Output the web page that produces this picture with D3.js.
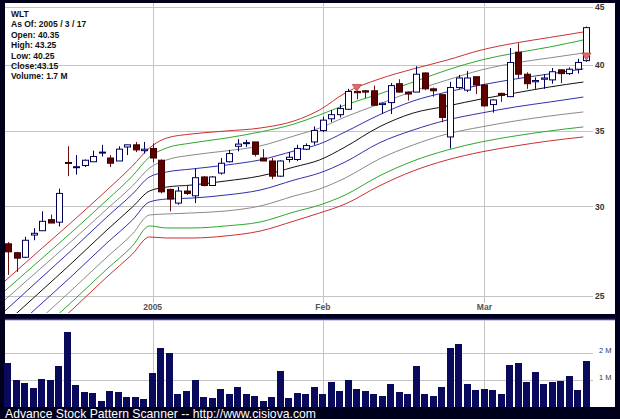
<!DOCTYPE html>
<html><head><meta charset="utf-8">
<script src="https://cdn.jsdelivr.net/npm/d3@7"></script>
<style>
html,body{margin:0;padding:0;background:#00001c;}
svg{display:block;font-family:"Liberation Sans",Arial,sans-serif;}
</style></head><body>
<svg id="c" width="620" height="419"></svg>
<script>
// ---------- data ----------
const dates = [
"2004-12-08","2004-12-09","2004-12-10","2004-12-13","2004-12-14","2004-12-15","2004-12-16","2004-12-17","2004-12-20","2004-12-21","2004-12-22","2004-12-23","2004-12-27","2004-12-28","2004-12-29","2004-12-30","2004-12-31",
"2005-01-03","2005-01-04","2005-01-05","2005-01-06","2005-01-07","2005-01-10","2005-01-11","2005-01-12","2005-01-13","2005-01-14","2005-01-18","2005-01-19","2005-01-20","2005-01-21","2005-01-24","2005-01-25","2005-01-26","2005-01-27","2005-01-28","2005-01-31",
"2005-02-01","2005-02-02","2005-02-03","2005-02-04","2005-02-07","2005-02-08","2005-02-09","2005-02-10","2005-02-11","2005-02-14","2005-02-15","2005-02-16","2005-02-17","2005-02-18","2005-02-22","2005-02-23","2005-02-24","2005-02-25","2005-02-28",
"2005-03-01","2005-03-02","2005-03-03","2005-03-04","2005-03-07","2005-03-08","2005-03-09","2005-03-10","2005-03-11","2005-03-14","2005-03-15","2005-03-16","2005-03-17"];
const open  = [27.8,27.3,27.05,28.3,28.55,29.2,29.05,32.8,32.5,32.6,32.85,33.45,33.1,32.9,33.85,34.0,33.6,33.75,32.95,31.05,30.2,30.95,30.65,31.85,31.3,32.1,32.85,33.9,34.1,34.2,33.1,32.9,31.9,33.0,33.0,33.7,34.2,35.0,35.85,36.15,36.55,37.9,37.95,37.95,36.9,37.05,38.5,37.85,37.85,39.35,38.1,37.65,34.55,38.2,38.0,39.05,38.4,36.9,37.75,37.5,41.05,39.25,38.65,38.85,38.8,39.6,39.3,39.65,40.35];
const high  = [27.9,27.35,28.2,28.7,29.7,29.5,31.1,33.9,33.3,33.0,33.6,34.0,33.3,33.9,34.0,34.2,34.2,34.1,33.0,31.1,31.2,31.3,32.4,31.9,31.9,33.1,33.65,34.4,34.35,34.2,33.7,33.1,32.95,33.5,34.0,34.1,35.3,36.0,36.5,36.9,38.1,38.0,38.0,38.35,37.05,38.55,38.85,37.9,39.9,39.4,38.2,37.65,38.65,39.2,39.5,39.05,38.5,37.3,37.8,41.4,41.8,39.4,39.0,39.25,39.75,39.65,39.8,40.5,43.25];
const low   = [26.1,26.25,27.0,28.0,28.55,29.0,28.8,31.9,32.0,32.5,32.85,33.2,32.5,32.9,33.3,33.5,33.4,32.8,30.8,29.7,30.1,30.7,30.2,31.25,31.3,32.0,32.8,33.55,33.85,33.2,32.9,31.7,31.85,32.8,32.9,33.65,34.0,34.9,35.6,35.95,36.5,37.3,37.4,36.85,36.2,36.2,37.8,37.2,37.85,38.0,37.5,35.6,33.75,38.1,37.85,37.7,36.75,36.3,37.1,37.5,38.95,38.1,38.1,38.1,38.5,38.55,39.2,39.3,40.25];
const close = [27.35,27.0,28.0,28.4,29.1,29.0,30.8,32.75,32.52,32.95,33.2,33.5,32.75,33.7,34.0,33.65,33.7,33.1,30.9,30.45,30.95,30.8,31.8,31.3,31.85,32.75,33.4,34.05,34.15,33.35,32.9,31.9,32.9,33.15,33.75,33.95,35.0,35.75,36.15,36.6,37.9,37.8,37.85,36.85,37.0,38.35,37.85,37.7,39.25,38.1,37.95,35.95,38.2,38.95,38.95,38.4,36.8,37.25,37.6,40.2,39.25,38.5,38.75,38.95,39.45,39.3,39.65,40.2,43.15];
const volume = [1.62,1.0,0.89,0.70,1.04,1.0,1.53,2.78,0.83,0.56,0.52,0.23,0.58,0.56,0.37,0.37,0.30,1.27,2.19,2.0,0.49,0.58,0.99,0.37,0.33,0.67,0.47,0.73,0.47,0.41,0.23,0.36,1.32,0.33,0.52,0.48,
0.75,0.49,0.91,0.58,0.99,0.67,0.58,0.47,0.41,0.86,0.56,0.49,1.51,0.47,0.41,0.75,2.19,2.32,0.84,0.62,0.67,0.62,0.47,1.57,1.64,0.94,1.28,0.86,0.93,0.98,1.15,0.63,1.70]; // millions

// band lines, read at these dates
const bandDates = ["2004-12-08","2004-12-14","2004-12-20","2004-12-27","2004-12-30","2005-01-03","2005-01-05","2005-01-10","2005-01-14","2005-01-21","2005-01-27","2005-02-01","2005-02-04","2005-02-10","2005-02-16","2005-02-23","2005-03-01","2005-03-07","2005-03-11","2005-03-17"];
const upperRed   = [25.77,27.40,29.12,31.01,32.57,33.78,34.47,34.76,34.97,35.18,35.69,36.50,37.78,38.87,39.67,40.40,41.23,41.82,42.29,42.77];
const upperGreen = [25.26,26.84,28.53,30.39,31.91,33.17,33.78,34.13,34.47,34.90,35.47,36.13,36.87,37.70,38.63,39.59,40.40,40.98,41.48,42.08];
const upperGray  = [24.80,26.36,28.02,29.84,31.27,32.43,32.97,33.30,33.58,33.92,34.62,35.18,35.98,36.94,37.93,38.79,39.59,40.16,40.57,40.98];
const upperBlue  = [24.25,25.83,27.51,29.36,30.76,31.85,32.17,32.37,32.63,32.97,33.58,34.06,34.90,36.13,37.17,37.86,38.40,38.87,39.27,39.67];
const midLine    = [23.62,25.15,26.79,28.59,29.96,30.95,31.20,31.33,31.59,31.91,32.50,32.97,33.85,35.26,36.27,36.79,37.32,37.78,38.24,38.63];
const lowerBlue  = [23.00,24.50,26.09,27.85,29.18,30.27,30.45,30.51,30.70,31.01,31.65,32.11,32.83,34.13,35.04,35.76,36.27,36.72,37.09,37.47];
const lowerGray  = [22.36,23.81,25.36,27.06,28.36,29.48,29.54,29.60,29.72,30.02,30.64,31.08,31.78,33.03,33.99,34.76,35.26,35.69,36.05,36.35];
const lowerGreen = [21.82,23.24,24.75,26.41,27.68,28.83,28.71,28.71,28.83,29.06,29.66,30.08,30.70,31.91,32.90,33.64,34.20,34.62,34.97,35.26];
const lowerRed   = [21.46,22.86,24.35,25.99,27.23,28.19,28.13,28.13,28.25,28.53,29.12,29.60,30.14,31.27,32.24,32.97,33.51,33.92,34.27,34.55];

const signalDates = ["2005-02-07","2005-03-17"];
const signalPrice = [37.9,40.4];

const priceTicks  = [25,30,35,40,45];
const volumeTicks = [1,2];
const monthTicks  = ["2005-01-03","2005-02-01","2005-03-01"];
const monthLabels = ["2005","Feb","Mar"];
const infoLines = ["WLT","As Of: 2005 / 3 / 17","Open: 40.35","High: 43.25","Low: 40.25","Close:43.15","Volume: 1.7 M"];
const footerText = "Advance Stock Pattern Scanner -- http://www.cisiova.com";

// ---------- layout ----------
const W = 620, H = 419;
const svg = d3.select("#c");
const P = {l:5, r:615, t:3, b:314};          // price panel
const V = {t:319, b:407};                     // volume panel
const plotRight = 593;

const x = d3.scaleBand().domain(dates).range([3.75, 590.75]).paddingInner(0.14).paddingOuter(0.07);
const bw = x.bandwidth();
const cx = d => x(d) + bw/2;
const y = d3.scaleLog().domain([25,45]).range([296,7]);
const yv = d3.scaleLinear().domain([0,3.222]).range([407,320]);

svg.append("rect").attr("width",W).attr("height",H).attr("fill","#00001c");
svg.append("rect").attr("x",P.l).attr("y",P.t).attr("width",P.r-P.l).attr("height",P.b-P.t).attr("fill","#fff");
svg.append("rect").attr("x",P.l).attr("y",V.t).attr("width",P.r-P.l).attr("height",V.b-V.t).attr("fill","#fff");
svg.append("line").attr("x1",P.l).attr("x2",P.r).attr("y1",V.t+0.5).attr("y2",V.t+0.5).attr("stroke","#3a3ab8").attr("stroke-width",1.5);

const defs = svg.append("defs");
defs.append("clipPath").attr("id","pc").append("rect").attr("x",P.l).attr("y",P.t).attr("width",plotRight-P.l).attr("height",313-P.t);

// grid
const grid = svg.append("g").attr("stroke","#c4c4c4").attr("stroke-width",1).attr("shape-rendering","crispEdges");
grid.selectAll(".hp").data(priceTicks).join("line")
  .attr("x1",P.l).attr("x2",plotRight).attr("y1",d=>Math.round(y(d))+0.5).attr("y2",d=>Math.round(y(d))+0.5);
grid.selectAll(".vp").data(monthTicks).join("line").attr("class","vp")
  .attr("x1",d=>Math.round(cx(d))+0.5).attr("x2",d=>Math.round(cx(d))+0.5).attr("y1",P.t).attr("y2",303);
grid.selectAll(".hv").data(volumeTicks).join("line").attr("class","hv")
  .attr("x1",P.l).attr("x2",plotRight).attr("y1",d=>Math.round(yv(d))+0.5).attr("y2",d=>Math.round(yv(d))+0.5);
grid.selectAll(".vv").data(monthTicks).join("line").attr("class","vv")
  .attr("x1",d=>Math.round(cx(d))+0.5).attr("x2",d=>Math.round(cx(d))+0.5).attr("y1",V.t+1).attr("y2",V.b);

// price axis labels
const ax = svg.append("g").attr("transform",`translate(${plotRight+1},0)`)
  .call(d3.axisRight(y).tickValues(priceTicks).tickSize(0).tickPadding(1).tickFormat(d3.format("d")));
ax.select(".domain").remove();
ax.selectAll("text").attr("font-size","8.5px").attr("font-weight","bold").attr("fill","#333")
  .attr("font-family","'Liberation Sans',Arial,sans-serif");

// month labels
const mx = svg.append("g").attr("transform","translate(0,303)")
  .call(d3.axisBottom(x).tickValues(monthTicks).tickSize(0).tickPadding(1).tickFormat((d,i)=>monthLabels[i]));
mx.select(".domain").remove();
mx.selectAll("text").attr("font-size","8.5px").attr("font-weight","bold").attr("fill","#555")
  .attr("font-family","'Liberation Sans',Arial,sans-serif");

// volume axis labels
const vx = svg.append("g").attr("transform",`translate(${plotRight+6},0)`)
  .call(d3.axisRight(yv).tickValues(volumeTicks).tickSize(0).tickPadding(0).tickFormat(d=>d+" M"));
vx.select(".domain").remove();
vx.selectAll("text").attr("font-size","7.5px").attr("fill","#33336a").attr("dy","-0.05em")
  .attr("font-family","'Liberation Sans',Arial,sans-serif");

// bands
const plot = svg.append("g").attr("clip-path","url(#pc)");
const bands = [
  [upperRed,"#cc3030"],[upperGreen,"#2ea82e"],[upperGray,"#8a8a8a"],[upperBlue,"#2f2fb0"],
  [midLine,"#111"],
  [lowerBlue,"#2f2fb0"],[lowerGray,"#8a8a8a"],[lowerGreen,"#2ea82e"],[lowerRed,"#cc3030"]
];
const line = d3.line().x(d=>x(d[0])+0.5).y(d=>y(d[1])).curve(d3.curveMonotoneX);
bands.forEach(([vals,col])=>{
  plot.append("path").datum(bandDates.map((d,i)=>[d,vals[i]]))
    .attr("d",line).attr("fill","none").attr("stroke",col).attr("stroke-width",1);
});

// candles
const candles = dates.map((d,i)=>({d,o:open[i],h:high[i],l:low[i],c:close[i],up:close[i]>=open[i]}));
const cg = plot.append("g");
cg.selectAll(".wick").data(candles).join("line")
  .attr("x1",d=>Math.round(cx(d.d))+0.5).attr("x2",d=>Math.round(cx(d.d))+0.5)
  .attr("y1",d=>y(d.h)).attr("y2",d=>y(d.l))
  .attr("stroke",d=>d.up?"#00005a":"#6a1010").attr("stroke-width",1);
cg.selectAll(".body").data(candles).join("rect")
  .attr("x",d=>Math.round(cx(d.d))-3+0.5)
  .attr("width",6)
  .attr("y",d=>y(Math.max(d.o,d.c)))
  .attr("height",d=>Math.max(1,Math.abs(y(d.o)-y(d.c))))
  .attr("fill",d=>d.up?"#fff":"#5c0000")
  .attr("stroke",d=>d.up?"#00005a":"#3c0000").attr("stroke-width",1);

// signals
const sig = signalDates.map((d,i)=>({d,p:signalPrice[i]}));
plot.selectAll(".sig").data(sig).join("path")
  .attr("d",d=>{const X=cx(d.d),Y=y(d.p);return `M${X-4.5},${Y-7}L${X+4.5},${Y-7}L${X},${Y}Z`;})
  .attr("fill","#e36a6a").attr("stroke","#c04848").attr("stroke-width",0.8);

// volume bars
svg.append("g").selectAll("rect").data(dates).join("rect")
  .attr("x",d=>Math.round(x(d))).attr("width",Math.round(bw))
  .attr("y",(d,i)=>yv(volume[i])).attr("height",(d,i)=>yv(0)-yv(volume[i]))
  .attr("fill","#0a0a5c").attr("shape-rendering","crispEdges");

// info text
svg.append("g").selectAll("text").data(infoLines).join("text")
  .attr("x",11).attr("y",(d,i)=>17+i*10.4).text(d=>d)
  .attr("font-size","8.5px").attr("font-weight","bold").attr("fill","#111");

// footer
svg.append("text").attr("x",5).attr("y",417.5).text(footerText)
  .attr("font-size","12.2px").attr("fill","#fff");
</script>
</body></html>
